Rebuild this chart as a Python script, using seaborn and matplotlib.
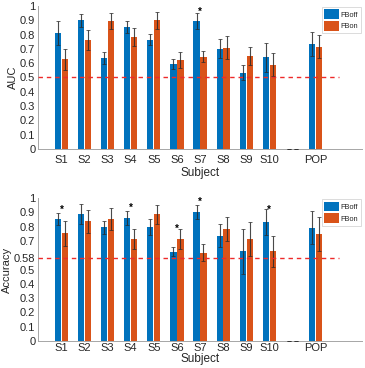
import numpy as np
import pandas as pd
import matplotlib
matplotlib.use("Agg")
import matplotlib.pyplot as plt
from matplotlib.patches import Patch
import seaborn as sns

# ---------------- data ----------------
subjects = ["S1", "S2", "S3", "S4", "S5", "S6", "S7", "S8", "S9", "S10", "", "POP"]
conditions = ["FBoff", "FBon"]

auc_off = [0.813, 0.900, 0.636, 0.851, 0.764, 0.592, 0.893, 0.701, 0.534, 0.641, 0.0, 0.734]
auc_on = [0.627, 0.760, 0.895, 0.781, 0.900, 0.620, 0.646, 0.709, 0.648, 0.590, 0.0, 0.716]
auc_off_err = [0.084, 0.044, 0.040, 0.042, 0.038, 0.035, 0.056, 0.068, 0.051, 0.102, 0.0, 0.082]
auc_on_err = [0.074, 0.070, 0.058, 0.063, 0.058, 0.056, 0.037, 0.079, 0.063, 0.081, 0.0, 0.083]
auc_star_subjects = ["S7"]
auc_star_y = [0.972]

acc_off = [0.851, 0.890, 0.795, 0.860, 0.795, 0.625, 0.904, 0.737, 0.627, 0.834, 0.0, 0.792]
acc_on = [0.753, 0.839, 0.855, 0.713, 0.886, 0.713, 0.618, 0.781, 0.713, 0.629, 0.0, 0.748]
acc_off_err = [0.042, 0.070, 0.045, 0.047, 0.056, 0.030, 0.047, 0.080, 0.158, 0.089, 0.0, 0.115]
acc_on_err = [0.088, 0.080, 0.077, 0.072, 0.067, 0.068, 0.060, 0.084, 0.120, 0.108, 0.0, 0.117]
acc_star_subjects = ["S1", "S4", "S6", "S7", "S10"]
acc_star_y = [0.928, 0.944, 0.795, 0.986, 0.930]

auc_ticks = [0, 0.1, 0.2, 0.3, 0.4, 0.5, 0.6, 0.7, 0.8, 0.9, 1]
auc_ticklabels = ["0", "0.1", "0.2", "0.3", "0.4", "0.5", "0.6", "0.7", "0.8", "0.9", "1"]
acc_ticks = [0, 0.1, 0.2, 0.3, 0.4, 0.5, 0.58, 0.7, 0.8, 0.9, 1]
acc_ticklabels = ["0", "0.1", "0.2", "0.3", "0.4", "0.5", "0.58", "0.7", "0.8", "0.9", "1"]
auc_chance = 0.5
acc_chance = 0.58

# ---------------- style ----------------
sns.set_style("white")
plt.rcParams["font.family"] = ["Liberation Sans", "DejaVu Sans"]

colors = {"FBoff": "#0072BD", "FBon": "#D95319"}
text_col = "#262626"
spine_col = "#a6a6a6"

fig = plt.figure(figsize=(3.65, 3.68), dpi=100)
ax1 = fig.add_axes([0.105, 0.595, 0.886, 0.389])
ax2 = fig.add_axes([0.105, 0.0734, 0.886, 0.388])


def panel(ax, off, on, off_err, on_err, star_subj, star_y, ticks, ticklabels, chance,
          ylabel, xtickpad, xlabelpad):
    df = pd.DataFrame({
        "Subject": subjects * 2,
        "Condition": ["FBoff"] * len(subjects) + ["FBon"] * len(subjects),
        "value": list(off) + list(on),
    })
    sns.barplot(data=df, x="Subject", y="value", hue="Condition", order=subjects,
                hue_order=conditions, palette=colors, saturation=1, width=0.6, gap=0.1,
                errorbar=None, legend=False, ax=ax, linewidth=0)
    errs = {"FBoff": off_err, "FBon": on_err}
    for cond, cont in zip(conditions, ax.containers):
        xs = [b.get_x() + b.get_width() / 2 for b in cont]
        ys = [b.get_height() for b in cont]
        ax.errorbar(xs, ys, yerr=errs[cond], fmt="none", ecolor="#2a2a2a", alpha=0.85,
                    elinewidth=0.8, capsize=1.3, capthick=0.6, zorder=3)
    n = len(subjects)
    ax.set_xlim(-1, n + 1)
    ax.set_ylim(0, 1)
    ax.plot([-1, n], [chance, chance], color="#EE2A2A", lw=1.0, dashes=(3.2, 2.8), zorder=4)
    for s, y in zip(star_subj, star_y):
        ax.text(subjects.index(s), y - 0.012, "*", ha="center", va="center", fontsize=7,
                fontweight="bold", color="black", zorder=5)
    ax.set_yticks(ticks)
    ax.set_yticklabels(ticklabels)
    ax.set_xticks(range(n))
    ax.set_xticklabels(subjects)
    ax.tick_params(axis="both", labelsize=8, colors=spine_col, labelcolor=text_col,
                   direction="in", length=2, width=0.6)
    ax.tick_params(axis="x", pad=xtickpad, length=0)
    ax.tick_params(axis="y", pad=2.2)
    for side in ["top", "right"]:
        ax.spines[side].set_visible(False)
    for side in ["left", "bottom"]:
        ax.spines[side].set_color(spine_col)
        ax.spines[side].set_linewidth(0.7)
    ax.set_xlabel("Subject", fontsize=8.5, color=text_col, labelpad=xlabelpad)
    ax.set_ylabel(ylabel, fontsize=8, color=text_col, labelpad=1.5)
    handles = [Patch(facecolor=colors[c], edgecolor="none", label=c) for c in conditions]
    leg = ax.legend(handles=handles, loc="upper right", fontsize=5.3, frameon=True,
                    fancybox=False, borderaxespad=0.1, handlelength=2.0, handleheight=1.7,
                    labelspacing=0.25, handletextpad=0.25, borderpad=0.35)
    leg.get_frame().set_edgecolor("#cccccc")
    leg.get_frame().set_linewidth(0.6)


panel(ax1, auc_off, auc_on, auc_off_err, auc_on_err, auc_star_subjects, auc_star_y,
      auc_ticks, auc_ticklabels, auc_chance, "AUC", 4.5, 1)
panel(ax2, acc_off, acc_on, acc_off_err, acc_on_err, acc_star_subjects, acc_star_y,
      acc_ticks, acc_ticklabels, acc_chance, "Accuracy", 1.2, 0)

fig.savefig("out.png", dpi=100)
